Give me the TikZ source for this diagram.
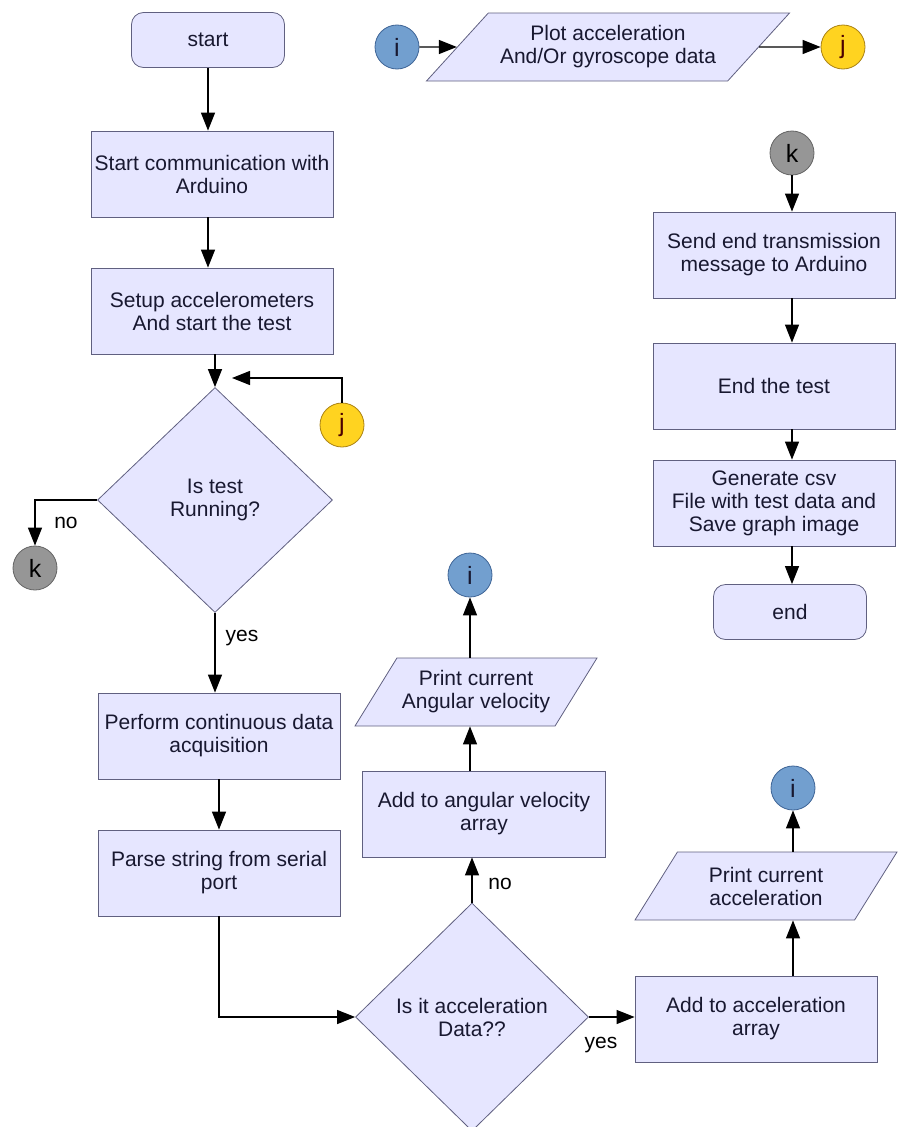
\documentclass[tikz,border=0pt]{standalone}
\usepackage{fontspec}
\setmainfont{Liberation Sans}
\usetikzlibrary{arrows.meta,shapes.geometric,positioning}
\definecolor{boxfill}{RGB}{230,230,255}
\definecolor{boxline}{RGB}{96,96,128}
\definecolor{txt}{RGB}{24,24,48}
\definecolor{ifill}{RGB}{114,159,207}
\definecolor{iline}{RGB}{62,100,150}
\definecolor{jfill}{RGB}{255,211,32}
\definecolor{jline}{RGB}{170,130,20}
\definecolor{kfill}{RGB}{150,150,150}
\definecolor{kline}{RGB}{100,100,100}

\begin{document}
\begin{tikzpicture}[x=1pt,y=-1pt,
  every node/.style={font=\fontsize{21}{23}\selectfont, text=txt},
  box/.style={draw=boxline, fill=boxfill, line width=0.8pt, align=center, minimum width=242pt, minimum height=86pt, inner sep=2pt},
  term/.style={box, rounded corners=12pt, minimum width=153pt, minimum height=55pt},
  decision/.style={diamond, draw=boxline, fill=boxfill, line width=0.8pt, align=center, minimum width=235pt, minimum height=225pt, inner sep=0pt},
  io/.style={trapezium, trapezium stretches body=true, draw=boxline, fill=boxfill, line width=0.8pt, align=center, inner sep=2pt, minimum height=68pt},
  conn/.style={circle, minimum size=44pt, inner sep=0pt, line width=0.8pt, font=\fontsize{25}{25}\selectfont},
  arr/.style={draw=black, line width=1.2pt, -{Triangle[length=18pt,width=14pt]}},
  lbl/.style={text=black}]
\useasboundingbox (0,0) rectangle (897,1127);
% Main column
\node[term] (start) at (208,40) {start};
\node[box] (comm) at (212,174) {Start communication with\\Arduino};
\node[box] (setup) at (212,311) {Setup accelerometers\\And start the test};
\node[decision] (running) at (215,500) {Is test\\Running?};
\node[box] (perform) at (219,736) {Perform continuous data\\acquisition};
\node[box] (parse) at (219,873) {Parse string from serial\\port};
\node[decision, minimum width=233pt, minimum height=228pt] (accq) at (472,1017) {Is it acceleration\\Data??};
% Connectors
\node[conn, draw=kline, fill=kfill, text=black] (kout) at (35,568) {k};
\node[conn, draw=jline, fill=jfill, text=black!70!red] (jback) at (342,425) {j};
\coordinate (jin) at (232,378);
% Angular velocity branch
\node[box, minimum width=243pt] (angadd) at (484,814) {Add to angular velocity\\array};
\node[io, minimum width=242pt, trapezium left angle=48, trapezium right angle=132] (angprint) at (476,692) {Print current\\Angular velocity};
\node[conn, draw=iline, fill=ifill] (iang) at (470,575) {i};
% Acceleration branch
\node[box] (accadd) at (756,1019) {Add to acceleration\\array};
\node[io, minimum width=262pt, trapezium left angle=45, trapezium right angle=135] (accprint) at (766,886) {Print current\\acceleration};
\node[conn, draw=iline, fill=ifill] (iacc) at (793,788) {i};
% Plot
\node[conn, draw=iline, fill=ifill] (itop) at (397,47) {i};
\node[io, minimum width=363pt, trapezium left angle=37, trapezium right angle=143] (plot) at (608,47) {Plot acceleration\\And/Or gyroscope data};
\node[conn, draw=jline, fill=jfill, text=black!70!red] (jtop) at (843,47) {j};
% End column
\node[conn, draw=kline, fill=kfill, text=black] (ktop) at (792,153) {k};
\node[box] (send) at (774,255) {Send end transmission\\message to Arduino};
\node[box] (endtest) at (774,386) {End the test};
\node[box] (gen) at (774,503) {Generate csv\\File with test data and\\Save graph image};
\node[term] (endn) at (790,612) {end};
% Labels
\node[lbl] (no1) at (66,523) {no};
\node[lbl] (yes1) at (242,638) {yes};
\node[lbl] (no2) at (500,884) {no};
\node[lbl] (yes2) at (601,1045) {yes};
% Arrows
\draw[arr] (start.south) -- (start.south |- comm.north);
\draw[arr] (start.south |- comm.south) -- (start.south |- setup.north);
\draw[arr] (setup.south -| running.north) -- (running.north);
\draw[arr] (jback.north) |- (jin);
\draw[arr] (running.west) -| (kout.north);
\draw[arr] (running.south) -- (running.south |- perform.north);
\draw[arr] (perform.south) -- (parse.north);
\draw[arr] (parse.south) |- (accq.west);
\draw[arr] (accq.north) -- (accq.north |- angadd.south);
\draw[arr] (iang |- angadd.north) -- (iang |- angprint.south);
\draw[arr] (iang |- angprint.north) -- (iang.south);
\draw[arr] (accq.east) -- (accq.east -| accadd.west);
\draw[arr] (iacc |- accadd.north) -- (iacc |- accprint.south);
\draw[arr] (iacc |- accprint.north) -- (iacc.south);
\draw[arr] (itop.east) -- (plot.west);
\draw[arr] (plot.east) -- (jtop.west);
\draw[arr] (ktop.south) -- (ktop |- send.north);
\draw[arr] (ktop |- send.south) -- (ktop |- endtest.north);
\draw[arr] (ktop |- endtest.south) -- (ktop |- gen.north);
\draw[arr] (ktop |- gen.south) -- (ktop |- endn.north);
\end{tikzpicture}
\end{document}
